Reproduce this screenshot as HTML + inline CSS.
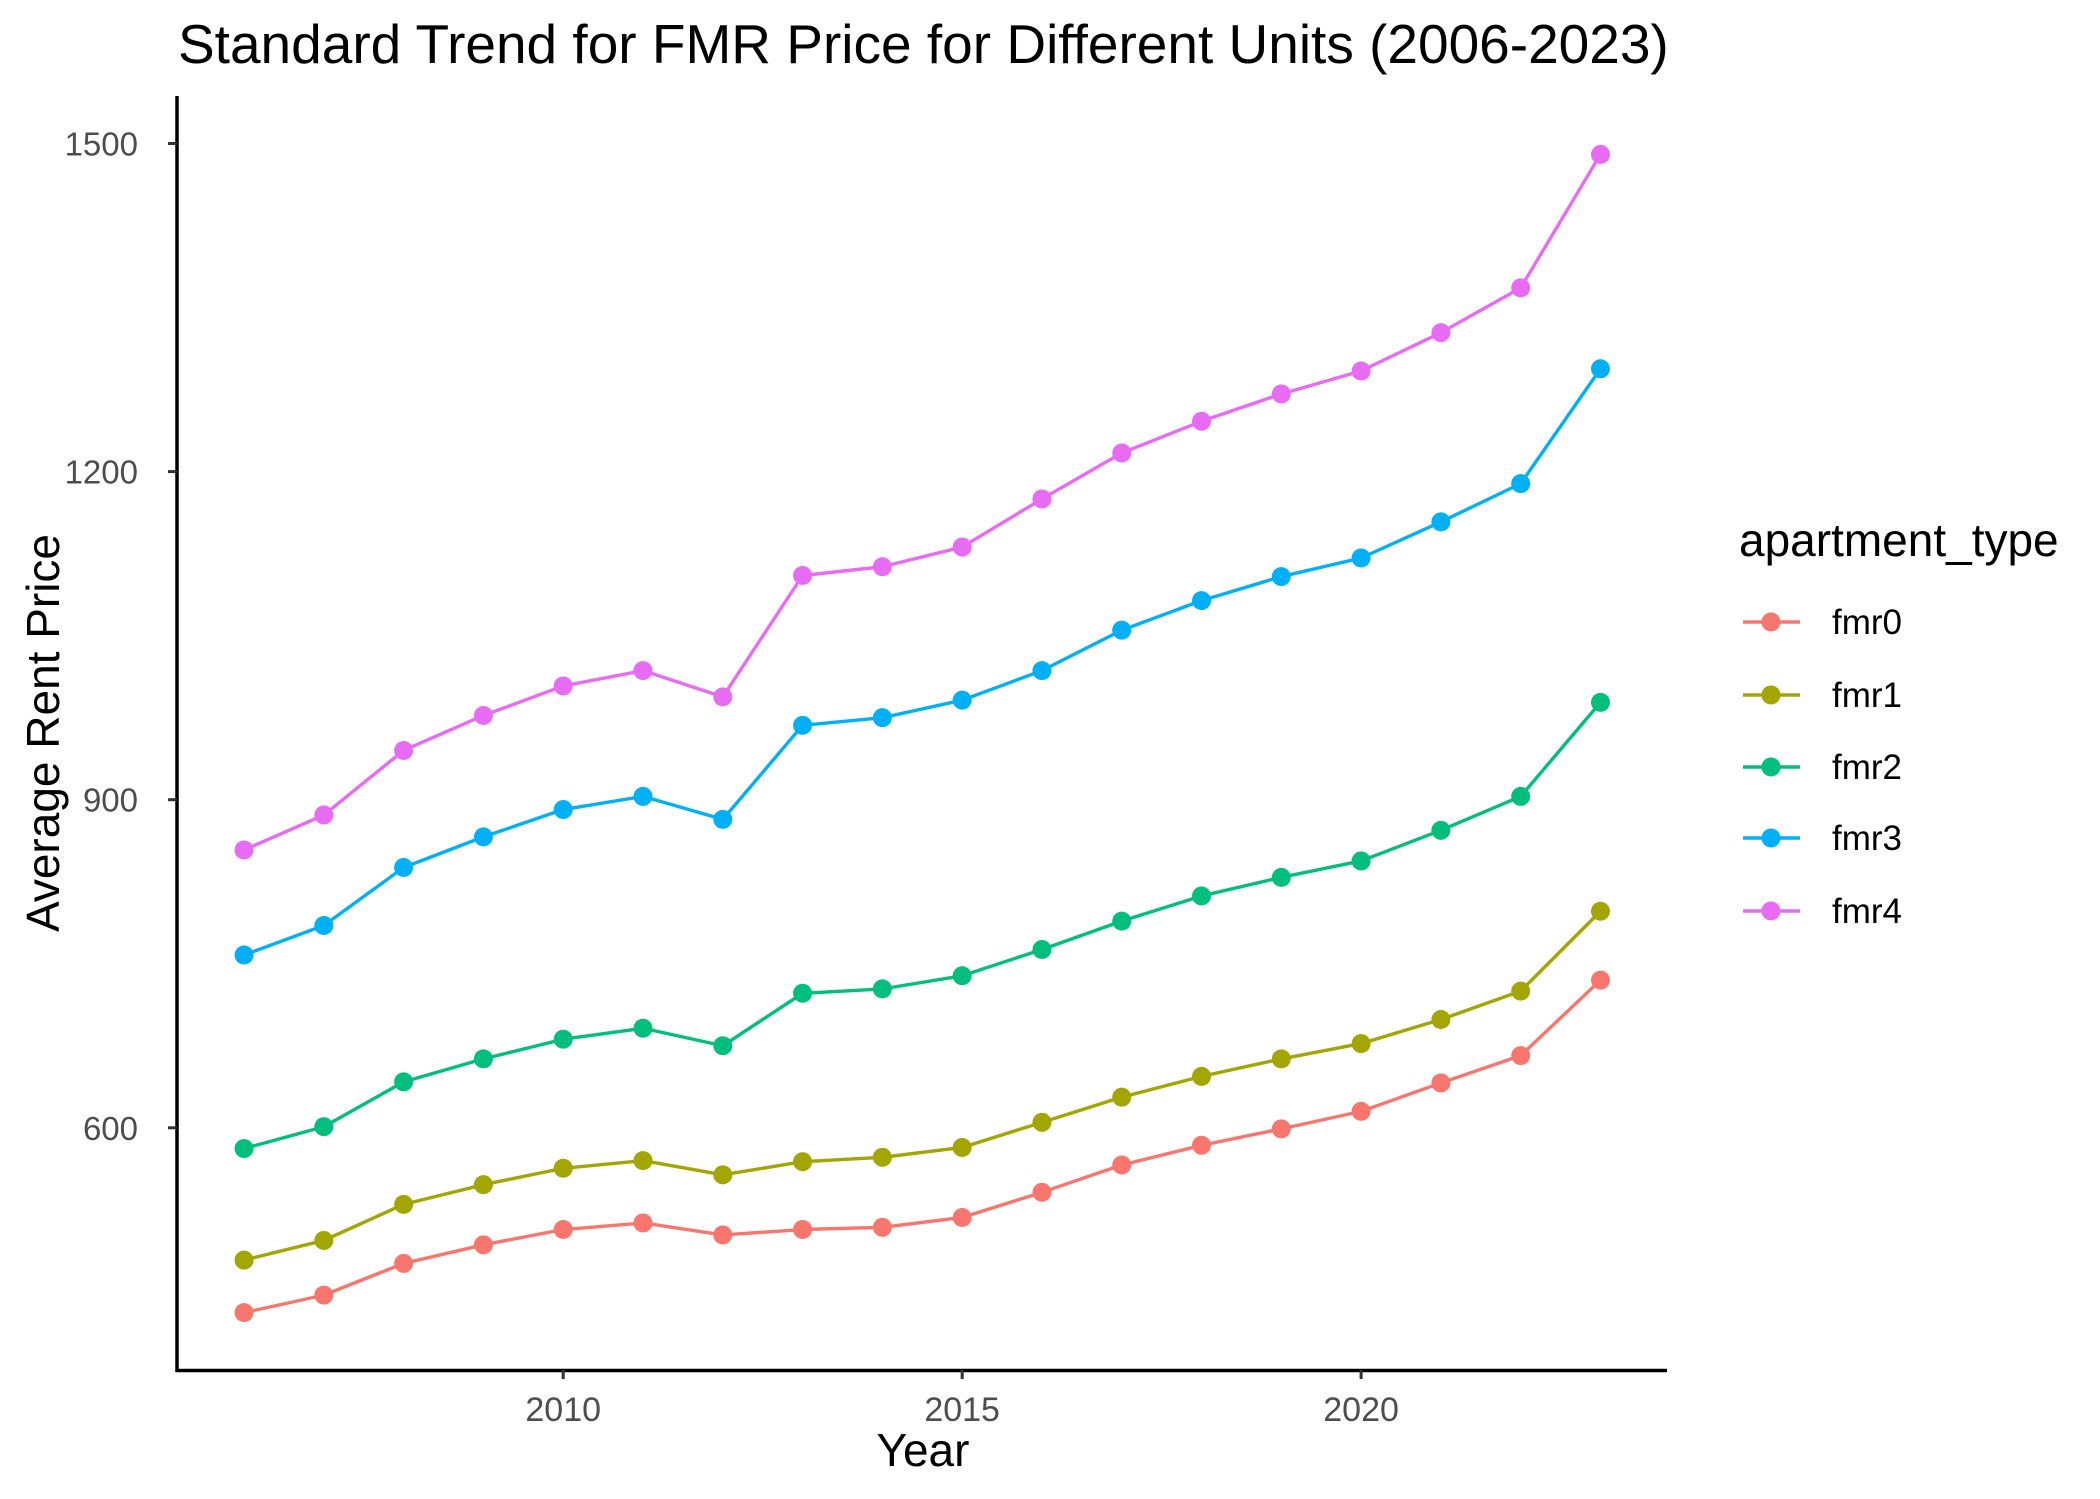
<!DOCTYPE html>
<html><head><meta charset="utf-8"><style>
html,body{margin:0;padding:0;background:#fff}
svg{display:block;font-family:"Liberation Sans",Arial,sans-serif}
</style></head><body>
<svg id="chart" width="2100" height="1499" viewBox="0 0 2100 1499">
<text x="178" y="63" font-size="55" fill="#000">Standard Trend for FMR Price for Different Units (2006-2023)</text>
<g id="plot"></g>
<line x1="177" y1="96" x2="177" y2="1372" stroke="#000" stroke-width="3.5"/>
<line x1="175.5" y1="1370.5" x2="1667" y2="1370.5" stroke="#000" stroke-width="3.5"/>
<text x="923" y="1466" font-size="46" text-anchor="middle">Year</text>
<text transform="translate(59,733) rotate(-90)" font-size="46" text-anchor="middle">Average Rent Price</text>
<text x="1739" y="556" font-size="46">apartment_type</text>
<g id="legend"></g>
</svg>
<script>
const years = [2006,2007,2008,2009,2010,2011,2012,2013,2014,2015,2016,2017,2018,2019,2020,2021,2022,2023];
const seriesNames = ["fmr0","fmr1","fmr2","fmr3","fmr4"];
const fmr0 = [431,447,476,493,507,513,502,507,509,518,541,566,584,599,615,641,666,735];
const fmr1 = [479,497,530,548,563,570,557,569,573,582,605,628,647,663,677,699,725,798];
const fmr2 = [581,601,642,663,681,691,675,723,727,739,763,789,812,829,844,872,903,989];
const fmr3 = [758,785,838,866,891,903,882,968,975,991,1018,1055,1082,1104,1121,1154,1189,1294];
const fmr4 = [854,886,945,977,1004,1018,994,1105,1113,1131,1175,1217,1246,1271,1292,1327,1368,1490];
const yTicks = [600,900,1200,1500];
const xTicks = [2010,2015,2020];
const colors = ["#F8766D","#A3A500","#00BF7D","#00B0F6","#E76BF3"];
const allSeries = [fmr0,fmr1,fmr2,fmr3,fmr4];

const NS = "http://www.w3.org/2000/svg";
function xs(v){ return 563.2 + (v-2010)*79.79; }
function ys(v){ return 1127.8 - (v-600)*(984.3/900); }
const svg = document.getElementById('chart');
const plot = document.getElementById('plot');
function mk(tag, attrs, parent){ const e=document.createElementNS(NS,tag); for(const k in attrs) e.setAttribute(k,attrs[k]); parent.appendChild(e); return e; }

yTicks.forEach(t=>{
  const l = mk('line',{x1:168,x2:177,y1:ys(t),y2:ys(t),stroke:'#333','stroke-width':3},svg);
  
  
  const tx = mk('text',{x:138,y:ys(t)+12,'font-size':33,fill:'#4d4d4d','text-anchor':'end'},svg);
  tx.textContent = t;
  
  
});
xTicks.forEach(t=>{
  const l = mk('line',{x1:xs(t),x2:xs(t),y1:1370,y2:1379,stroke:'#333','stroke-width':3},svg);
  
  
  const tx = mk('text',{x:xs(t),y:1421,'font-size':34,fill:'#4d4d4d','text-anchor':'middle'},svg);
  tx.textContent = t;
  
  
});

allSeries.forEach((vals,i)=>{
  const pts = vals.map((v,j)=>xs(years[j])+','+ys(v)).join(' ');
  const pl = mk('polyline',{points:pts,fill:'none',stroke:colors[i],'stroke-width':3.4,'stroke-linejoin':'round'},plot);
  
  
  vals.forEach((v,j)=>{
    const c = mk('circle',{cx:xs(years[j]),cy:ys(v),r:9.5,fill:colors[i]},plot);
    
    
  });
});

const leg = document.getElementById('legend');
const legY = [622,695,767,838,911];
seriesNames.forEach((n,i)=>{
  const g = mk('g',{},leg);
  
  
  mk('line',{x1:1743,x2:1800,y1:legY[i],y2:legY[i],stroke:colors[i],'stroke-width':3.4},g);
  mk('circle',{cx:1771,cy:legY[i],r:9.5,fill:colors[i]},g);
  const t = mk('text',{x:1832,y:legY[i]+12,'font-size':35,fill:'#000'},g);
  t.textContent = n;
});
</script>
</body></html>
